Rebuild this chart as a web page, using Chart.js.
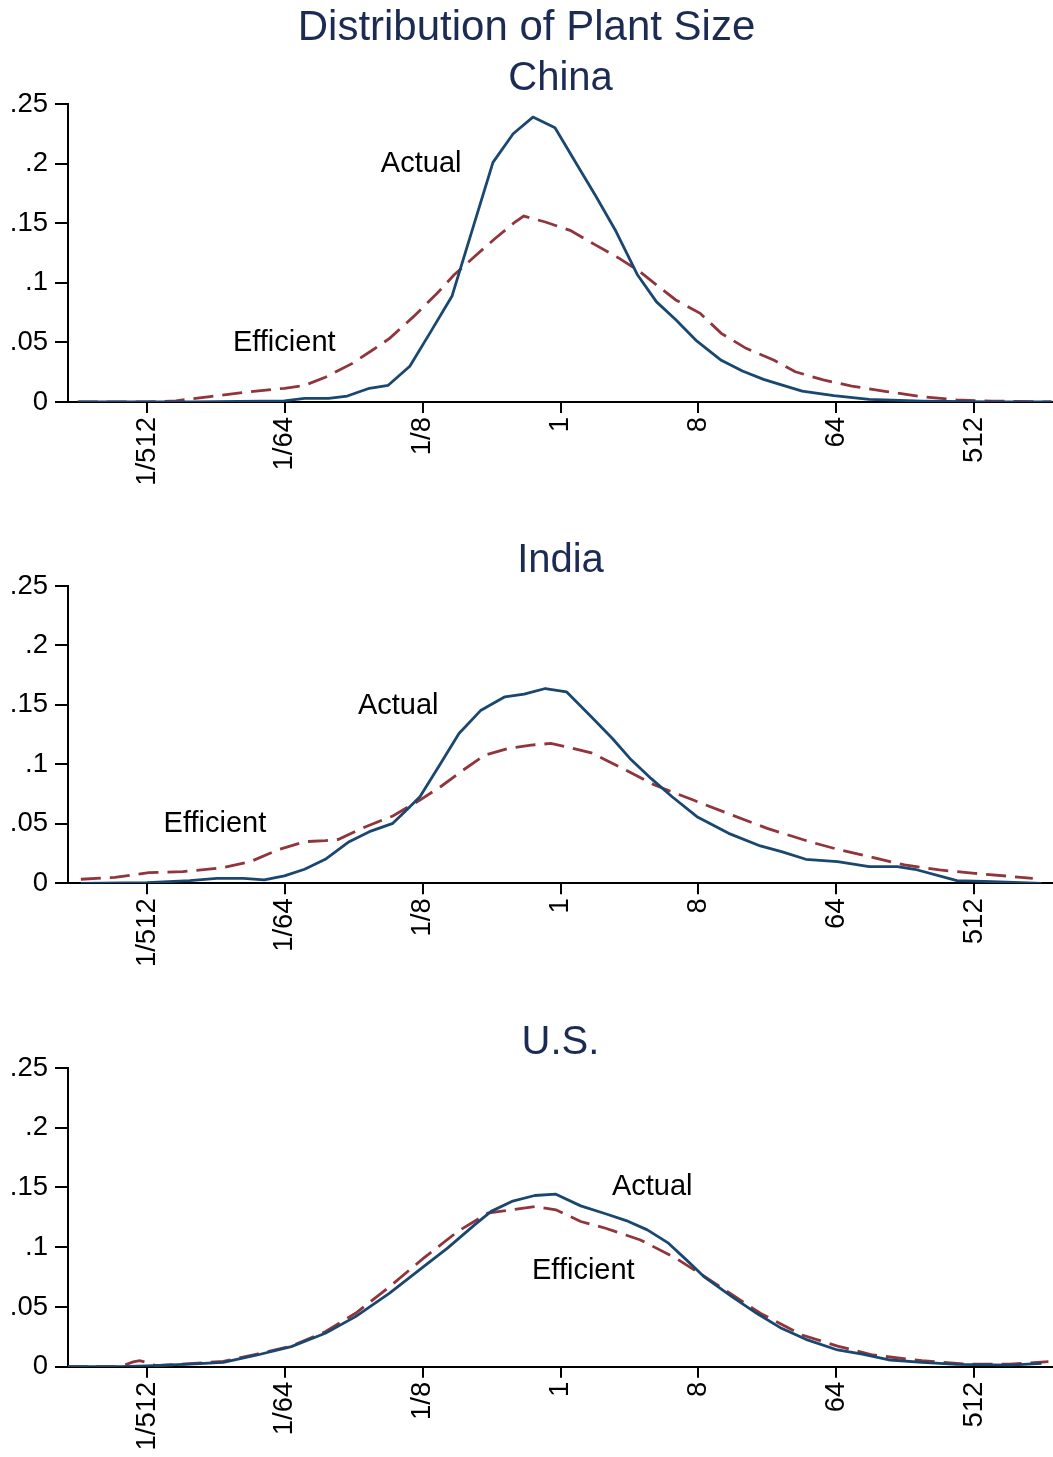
<!DOCTYPE html>
<html><head><meta charset="utf-8">
<script src="https://cdn.jsdelivr.net/npm/chart.js@4.4.1/dist/chart.umd.min.js"></script>
<style>
html,body{margin:0;padding:0;background:#fff;}
body{width:1053px;height:1457px;position:relative;overflow:hidden;}
canvas{position:absolute;left:0;}
</style></head><body>
<canvas id="c1" width="1053" height="490" style="top:0px"></canvas>
<canvas id="c2" width="1053" height="483" style="top:490px"></canvas>
<canvas id="c3" width="1053" height="484" style="top:973px"></canvas>
<script>
// x positions are log2(plant size)
const xTickValues = [-9, -6, -3, 0, 3, 6, 9];
const xTickLabels = ['1/512', '1/64', '1/8', '1', '8', '64', '512'];
const yTickValues = [0, 0.05, 0.1, 0.15, 0.2, 0.25];
const yTickLabels = ['0', '.05', '.1', '.15', '.2', '.25'];
const mainTitle = 'Distribution of Plant Size';
const panelNames = ['China', 'India', 'U.S.'];
const seriesNames = ['Actual', 'Efficient'];

// China
const chinaActualX = [-10.5, -8, -6.01, -5.57, -5.05, -4.64, -4.16, -3.75, -3.28, -2.84, -2.36, -1.47, -1.03, -0.6, -0.12, 0.36, 0.78, 1.21, 1.67, 2.09, 2.51, 2.97, 3.5, 3.96, 4.42, 4.81, 5.26, 5.95, 6.72, 7.87, 9.4, 10.69];
const chinaActualY = [0, 0, 0.001, 0.003, 0.003, 0.005, 0.0115, 0.014, 0.030, 0.058, 0.089, 0.201, 0.225, 0.239, 0.230, 0.199, 0.172, 0.143, 0.107, 0.084, 0.069, 0.051, 0.035, 0.026, 0.019, 0.0143, 0.0092, 0.0053, 0.0022, 0.0008, 0, 0];
const chinaEfficientX = [-10.51, -9.0, -8.37, -7.63, -6.75, -6.01, -5.57, -5.12, -4.53, -4.09, -3.72, -3.2, -2.69, -2.32, -1.87, -1.43, -0.99, -0.8, -0.33, 0.21, 0.75, 1.28, 1.74, 2.13, 2.51, 3.04, 3.5, 4.04, 4.65, 5.11, 5.72, 6.34, 7.1, 7.87, 8.63, 9.4, 10.69];
const chinaEfficientY = [0, 0, 0.001, 0.0045, 0.0087, 0.0115, 0.014, 0.0207, 0.0324, 0.0436, 0.0534, 0.0716, 0.091, 0.1065, 0.122, 0.137, 0.151, 0.156, 0.151, 0.144, 0.132, 0.1205, 0.109, 0.097, 0.0856, 0.0744, 0.0576, 0.045, 0.035, 0.0254, 0.0185, 0.0134, 0.0087, 0.0045, 0.0017, 0.0008, 0];

// India
const indiaActualX = [-10.44, -9.0, -8.07, -7.48, -6.9, -6.45, -6.01, -5.57, -5.12, -4.6, -4.16, -3.65, -3.35, -3.06, -2.61, -2.21, -1.73, -1.21, -0.79, -0.33, 0.13, 0.67, 1.13, 1.51, 1.97, 2.43, 2.97, 3.66, 4.35, 4.81, 5.34, 6.03, 6.72, 7.33, 7.71, 8.63, 9.4, 10.47];
const indiaActualY = [0, 0.0006, 0.0022, 0.0042, 0.0042, 0.0028, 0.0062, 0.0118, 0.0202, 0.035, 0.0434, 0.0504, 0.0616, 0.0728, 0.1008, 0.126, 0.1456, 0.1568, 0.159, 0.1638, 0.161, 0.14, 0.1218, 0.105, 0.0882, 0.0728, 0.056, 0.042, 0.0314, 0.0266, 0.0202, 0.0182, 0.014, 0.014, 0.0118, 0.0022, 0.0014, 0];
const indiaEfficientX = [-10.44, -9.7, -8.96, -8.22, -7.34, -6.75, -6.16, -5.57, -5.12, -4.83, -4.24, -3.65, -3.06, -2.61, -2.17, -1.65, -1.14, -0.64, -0.21, 0.13, 0.67, 1.28, 2.05, 2.89, 3.73, 4.5, 5.42, 6.03, 6.72, 7.49, 8.25, 9.02, 10.28];
const indiaEfficientY = [0.0034, 0.005, 0.009, 0.0098, 0.0132, 0.0182, 0.028, 0.035, 0.0358, 0.037, 0.0476, 0.0566, 0.07, 0.0812, 0.0938, 0.1078, 0.1134, 0.1162, 0.1176, 0.1148, 0.1097, 0.098, 0.0826, 0.07, 0.0574, 0.0462, 0.035, 0.0286, 0.0224, 0.0154, 0.0112, 0.0084, 0.0042];

// U.S.
const usActualX = [-10.73, -9.6, -9.0, -8.07, -7.34, -6.6, -5.86, -5.12, -4.46, -3.72, -2.98, -2.46, -1.87, -1.51, -1.06, -0.56, -0.1, 0.44, 0.98, 1.43, 1.89, 2.35, 2.74, 3.12, 3.73, 4.27, 4.81, 5.34, 6.03, 6.57, 7.18, 7.87, 8.63, 9.78, 10.47];
const usActualY = [0, 0, 0.0006, 0.0022, 0.0036, 0.0098, 0.0168, 0.028, 0.0419, 0.0615, 0.0838, 0.0992, 0.1187, 0.13, 0.1383, 0.1433, 0.1444, 0.1346, 0.128, 0.1223, 0.1145, 0.1034, 0.0894, 0.0754, 0.0587, 0.0447, 0.0321, 0.0229, 0.014, 0.0106, 0.0056, 0.0036, 0.002, 0.0014, 0.0028];
const usEfficientX = [-10.73, -9.59, -9.3, -9.16, -8.95, -8.8, -8.07, -7.34, -6.6, -5.86, -5.12, -4.46, -3.72, -2.98, -2.24, -1.58, -1.32, -0.56, -0.1, 0.44, 0.98, 1.74, 2.51, 2.97, 3.58, 4.35, 5.26, 6.03, 6.8, 7.87, 8.86, 9.78, 10.62];
const usEfficientY = [0, 0, 0.004, 0.005, 0.003, 0.0008, 0.0025, 0.0045, 0.0106, 0.0173, 0.0293, 0.0447, 0.067, 0.0908, 0.1131, 0.1285, 0.130, 0.134, 0.1313, 0.1215, 0.1159, 0.1061, 0.0908, 0.0796, 0.0642, 0.0447, 0.0265, 0.0173, 0.0098, 0.005, 0.0022, 0.0022, 0.0042];

const FONT = "'Liberation Sans', Arial, Helvetica, sans-serif";
const TITLE_COLOR = '#1c2b54';
const ACTUAL_COLOR = '#1a476f';
const EFF_COLOR = '#90353b';

function zip(xs, ys) { return xs.map((x, i) => ({ x: x, y: ys[i] })); }

const labelPlugin = {
  id: 'curveLabels',
  afterDatasetsDraw(chart) {
    const items = chart.$curveLabels || [];
    const { ctx } = chart;
    const xs = chart.scales.x, ys = chart.scales.y;
    ctx.save();
    ctx.fillStyle = '#000';
    ctx.font = '29px ' + FONT;
    ctx.textAlign = 'left';
    ctx.textBaseline = 'middle';
    items.forEach(it => {
      ctx.fillText(it.text, xs.getPixelForValue(it.x), ys.getPixelForValue(it.y));
    });
    ctx.restore();
  }
};

function makePanel(id, cfg) {
  const chart = new Chart(document.getElementById(id), {
    type: 'line',
    data: {
      datasets: [
        { label: seriesNames[0], data: zip(cfg.ax, cfg.ay), borderColor: ACTUAL_COLOR, borderWidth: 2.8,
          pointRadius: 0, tension: 0, fill: false, borderJoinStyle: 'round' },
        { label: seriesNames[1], data: zip(cfg.ex, cfg.ey), borderColor: EFF_COLOR, borderWidth: 2.8,
          borderDash: [20, 9], pointRadius: 0, tension: 0, fill: false }
      ]
    },
    options: {
      responsive: false,
      animation: false,
      devicePixelRatio: 1,
      layout: { padding: 0 },
      plugins: {
        legend: { display: false },
        tooltip: { enabled: false },
        title: cfg.title ? {
          display: true, text: cfg.title, color: TITLE_COLOR,
          font: { family: FONT, size: 42, weight: 'normal', lineHeight: 1.2 },
          padding: { top: 3, bottom: 0 }
        } : { display: false },
        subtitle: {
          display: true, text: cfg.sub, color: TITLE_COLOR, fullSize: false,
          font: { family: FONT, size: 40, weight: 'normal', lineHeight: 1.2 },
          padding: { top: cfg.subTop, bottom: 1 }
        }
      },
      scales: {
        x: {
          type: 'linear', min: -10.72, max: 10.72,
          afterBuildTicks: s => { s.ticks = xTickValues.map(v => ({ value: v })); },
          afterFit: s => { s.height = cfg.xh; },
          ticks: {
            autoSkip: false, minRotation: 90, maxRotation: 90, padding: 4, color: '#000',
            font: { family: FONT, size: 27.5 },
            callback: (v, i) => xTickLabels[i]
          },
          grid: { drawOnChartArea: false, drawTicks: true, tickLength: 11, color: '#000', lineWidth: 2 },
          border: { display: true, color: '#000', width: 2 }
        },
        y: {
          type: 'linear', min: 0, max: 0.25,
          afterBuildTicks: s => { s.ticks = yTickValues.map(v => ({ value: v })); },
          afterFit: s => { s.width = 68; },
          ticks: {
            padding: 7, color: '#000', font: { family: FONT, size: 27.5 },
            callback: (v, i) => yTickLabels[i]
          },
          grid: { drawOnChartArea: false, drawTicks: true, tickLength: 13, color: '#000', lineWidth: 2 },
          border: { display: true, color: '#000', width: 2 }
        }
      }
    },
    plugins: [labelPlugin]
  });
  chart.$curveLabels = cfg.labels;
  chart.draw();
}

makePanel('c1', {
  title: mainTitle, sub: panelNames[0], subTop: 1.6, xh: 88,
  ax: chinaActualX, ay: chinaActualY, ex: chinaEfficientX, ey: chinaEfficientY,
  labels: [{ text: seriesNames[0], x: -3.91, y: 0.1997 }, { text: seriesNames[1], x: -7.13, y: 0.0495 }]
});
makePanel('c2', {
  title: null, sub: panelNames[1], subTop: 47, xh: 89.7,
  ax: indiaActualX, ay: indiaActualY, ex: indiaEfficientX, ey: indiaEfficientY,
  labels: [{ text: seriesNames[0], x: -4.41, y: 0.149 }, { text: seriesNames[1], x: -8.64, y: 0.05 }]
});
makePanel('c3', {
  title: null, sub: panelNames[2], subTop: 46, xh: 90.3,
  ax: usActualX, ay: usActualY, ex: usEfficientX, ey: usEfficientY,
  labels: [{ text: seriesNames[0], x: 1.12, y: 0.150 }, { text: seriesNames[1], x: -0.62, y: 0.0805 }]
});
</script>
</body></html>
